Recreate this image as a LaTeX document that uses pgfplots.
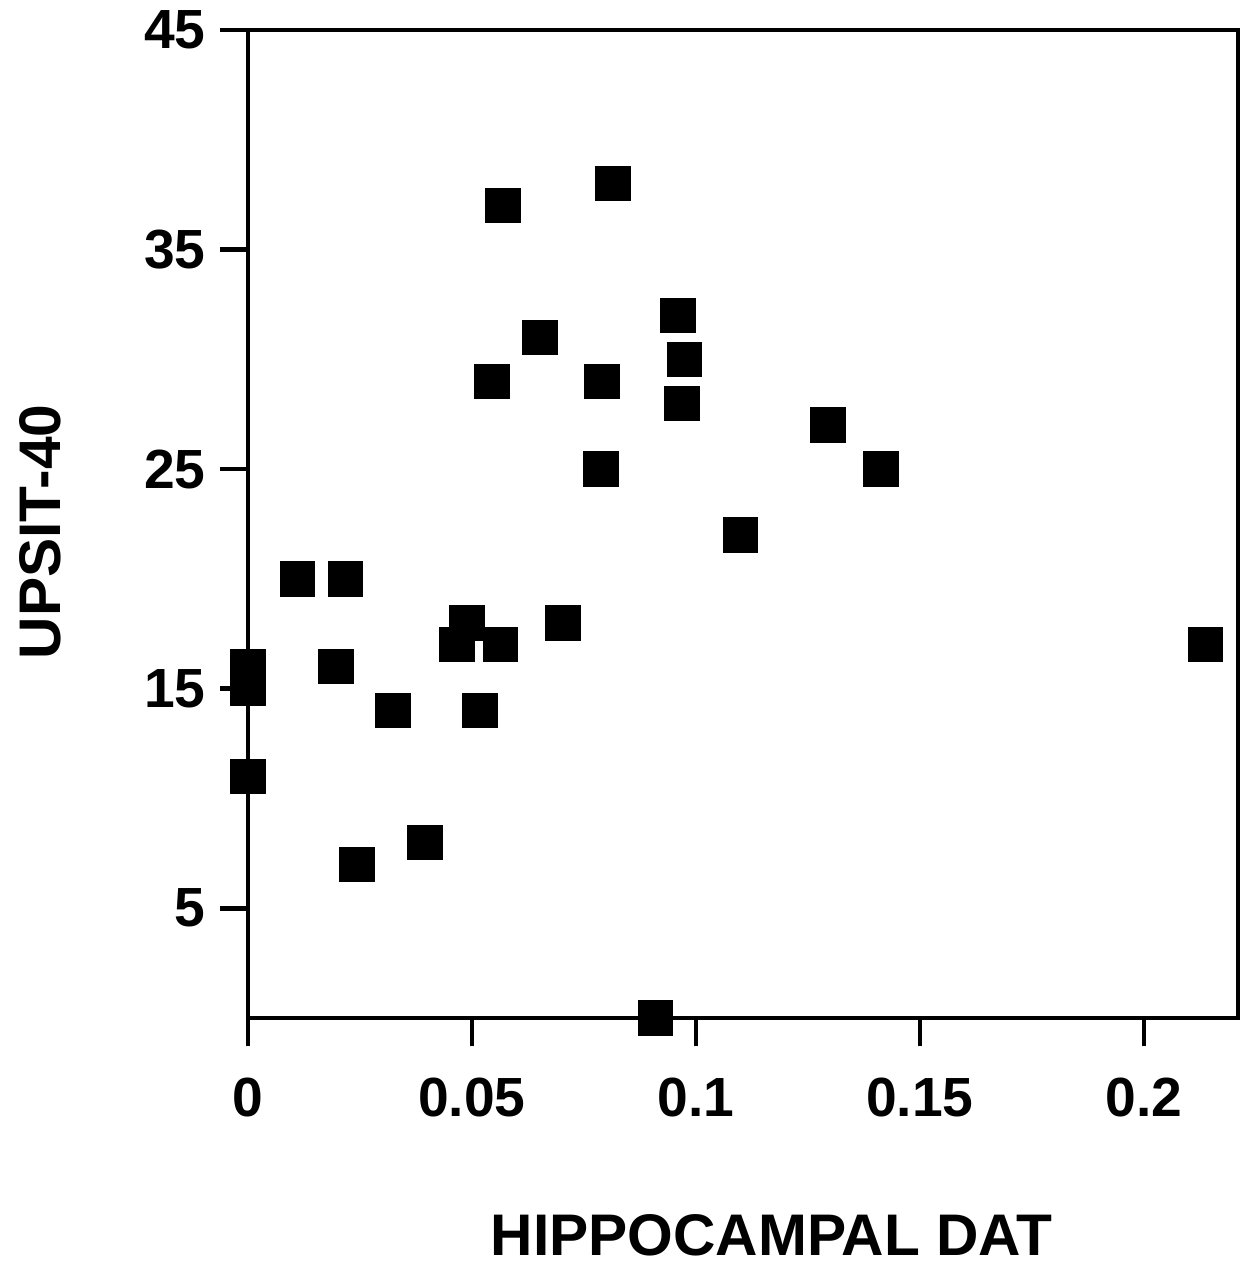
\documentclass[border=0pt]{standalone}
\usepackage{pgfplots}
\pgfplotsset{compat=1.18}
\usepackage{fontspec}
\setmainfont{Liberation Sans}
\begin{document}
\begin{tikzpicture}
\begin{axis}[
    scale only axis,
    width=9.9cm, height=9.88cm,
    xmin=0, xmax=0.221,
    ymin=0, ymax=45,
    xtick={0,0.05,0.1,0.15,0.2},
    xticklabels={0,0.05,0.1,0.15,0.2},
    ytick={5,15,25,35,45},
    yticklabels={5,15,25,35,45},
    tick align=outside,
    major tick length=0.28cm,
    xtick pos=bottom, ytick pos=left,
    axis line style={line width=1.3pt},
    tick style={line width=1.3pt, black},
    tick label style={font=\fontsize{15.7}{18}\selectfont\bfseries},
    yticklabel style={xshift=-0.02cm},
    xticklabel style={yshift=-0.2cm},
    xlabel={HIPPOCAMPAL DAT},
    ylabel={UPSIT-40},
    label style={font=\fontsize{16.7}{20}\selectfont\bfseries},
    xlabel style={at={(axis description cs:0.529,-0.2196)}, anchor=center},
    ylabel style={at={(axis description cs:-0.210,0.492)}, anchor=center, rotate=0},
    clip=false,
]
% UPSIT-40 vs hippocampal DAT
\addplot[only marks, mark=square*, mark size=0.17cm, black] coordinates {
    (0,16) (0,15) (0,11)
    (0.011,20) (0.0217,20) (0.0196,16) (0.0243,7)
    (0.0324,14) (0.0395,8) (0.0467,17) (0.0489,18)
    (0.0518,14) (0.0563,17) (0.0545,29) (0.0569,37)
    (0.0652,31) (0.0703,18) (0.0788,25) (0.079,29)
    (0.0815,38) (0.091,0) (0.096,32) (0.0975,30)
    (0.0969,28) (0.110,22) (0.1295,27) (0.1413,25)
    (0.2138,17)
};
\end{axis}
\pgfresetboundingbox
\useasboundingbox (-2.48,-2.46) rectangle (9.93,10.18);
\end{tikzpicture}
\end{document}
